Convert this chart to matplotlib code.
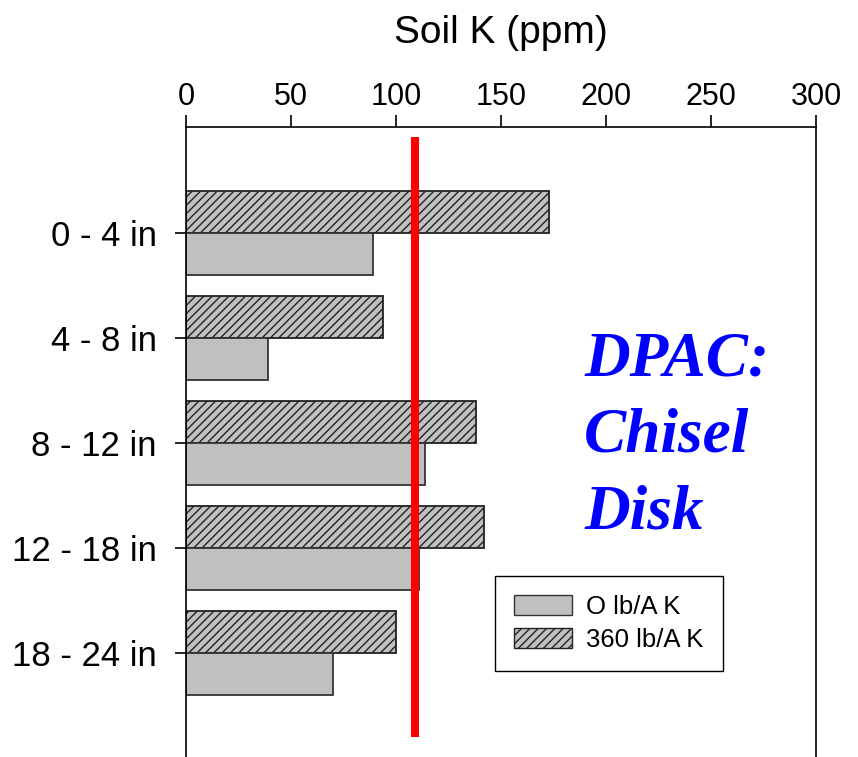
import numpy as np
import matplotlib.pyplot as plt
from matplotlib.patches import Patch

plt.rcParams['font.family'] = ['Liberation Sans', 'DejaVu Sans']
plt.rcParams['hatch.linewidth'] = 1.0

# soil K by depth
depths = ['0 - 4 in', '4 - 8 in', '8 - 12 in', '12 - 18 in', '18 - 24 in']
k_0lb = [89, 39, 114, 111, 70]
k_360lb = [173, 94, 138, 142, 100]
critical_k = 109
xticks = [0, 50, 100, 150, 200, 250, 300]

fig = plt.figure(figsize=(8.58, 7.57), dpi=100)
ax = fig.add_axes([0.2168, 0.0, 0.7343, 0.8322])

y = np.arange(len(depths))
h = 0.4
ax.barh(y - h / 2, k_360lb, height=h, color='#c0c0c0', edgecolor='#222222',
        hatch='////', linewidth=1.3, zorder=2)
ax.barh(y + h / 2, k_0lb, height=h, color='#c0c0c0', edgecolor='#333333',
        linewidth=1.3, zorder=2)

ax.plot([critical_k, critical_k], [-0.914, 4.8], color='red', lw=5.8,
        solid_capstyle='butt', zorder=3)

ax.set_xlim(0, 300)
ax.set_ylim(4.99, -1.01)
ax.xaxis.tick_top()
ax.xaxis.set_label_position('top')
ax.set_xticks(xticks)
ax.set_xticklabels([str(t) for t in xticks])
ax.set_yticks(y)
ax.set_yticklabels(depths)
ax.tick_params(axis='x', direction='out', length=9, width=1.2, labelsize=22, pad=2)
ax.tick_params(axis='y', direction='out', length=8, width=1.2, labelsize=25, pad=13)
ax.set_xlabel('Soil K (ppm)', fontsize=28, labelpad=28)
ax.spines['bottom'].set_visible(False)
for s in ['top', 'left', 'right']:
    ax.spines[s].set_linewidth(1.2)

ax.text(0.632, 0.676, 'DPAC:\nChisel\nDisk', transform=ax.transAxes,
        family='Liberation Serif', fontweight='bold', fontstyle='italic',
        fontsize=45.5, color='#0000ff', va='top', ha='left', linespacing=1.42)

handles = [Patch(facecolor='#c0c0c0', edgecolor='#333333', label='O lb/A K'),
           Patch(facecolor='#c0c0c0', edgecolor='#222222', hatch='////',
                 label='360 lb/A K')]
leg = ax.legend(handles=handles, loc='upper left', bbox_to_anchor=(0.49, 0.288),
                fontsize=18.5, fancybox=False, edgecolor='black', framealpha=1,
                handlelength=2.25, handleheight=0.85, borderpad=0.75,
                labelspacing=0.35, handletextpad=0.55, borderaxespad=0)
leg.get_frame().set_linewidth(1.0)

fig.savefig('out.png', dpi=100)
